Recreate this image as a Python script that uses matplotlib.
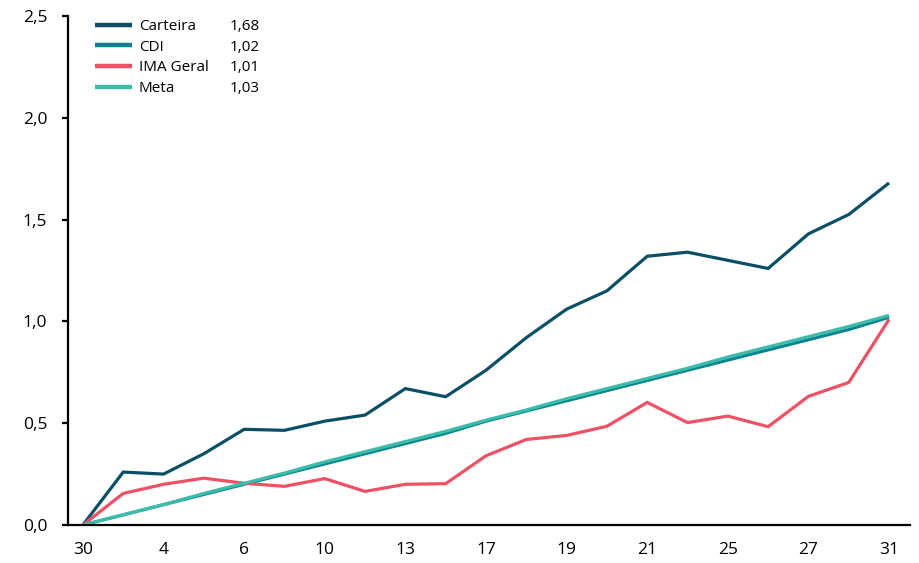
import matplotlib
matplotlib.use("Agg")
import matplotlib.pyplot as plt
from matplotlib.ticker import FuncFormatter

plt.rcParams['font.family'] = ['Open Sans', 'DejaVu Sans']

x_labels = ["30", "", "4", "", "6", "", "10", "", "13", "", "17", "", "19", "", "21", "", "25", "", "27", "", "31"]

carteira = [0.00, 0.26, 0.25, 0.35, 0.47, 0.465, 0.51, 0.54, 0.67, 0.63, 0.76,
            0.92, 1.06, 1.15, 1.32, 1.34, 1.30, 1.26, 1.43, 1.525, 1.68]
cdi = [0.00, 0.05, 0.10, 0.15, 0.20, 0.25, 0.30, 0.35, 0.40, 0.45, 0.51,
       0.56, 0.61, 0.66, 0.71, 0.76, 0.81, 0.86, 0.91, 0.96, 1.02]
ima_geral = [0.00, 0.155, 0.20, 0.23, 0.205, 0.19, 0.228, 0.165, 0.20, 0.203, 0.34,
             0.42, 0.44, 0.485, 0.602, 0.503, 0.535, 0.483, 0.632, 0.70, 1.01]
meta = [0.00, 0.05, 0.10, 0.155, 0.205, 0.255, 0.31, 0.36, 0.41, 0.46, 0.515,
        0.565, 0.62, 0.67, 0.72, 0.77, 0.825, 0.875, 0.925, 0.975, 1.03]

names = ["Carteira", "CDI", "IMA Geral", "Meta"]
finals = ["1,68", "1,02", "1,01", "1,03"]
colors = ["#0b4f66", "#0a8590", "#ef5064", "#3dbcaa"]
series = [carteira, cdi, ima_geral, meta]

fig = plt.figure(figsize=(9.19, 5.63), dpi=100)
ax = fig.add_axes([68/919, 1 - 525/563, (910-68)/919, (525-16)/563])

xs = list(range(len(carteira)))
lines = []
for name, vals, col in zip(names, series, colors):
    ln, = ax.plot(xs, vals, color=col, lw=2.3, label=name, solid_capstyle='butt')
    lines.append(ln)

ax.set_xlim(-0.37, 20.52)
ax.set_ylim(0, 2.5)
ax.set_yticks([0, 0.5, 1.0, 1.5, 2.0, 2.5])
ax.yaxis.set_major_formatter(FuncFormatter(lambda v, p: f"{v:.1f}".replace(".", ",")))
ax.set_xticks(xs)
ax.set_xticklabels(x_labels)

for s in ["top", "right"]:
    ax.spines[s].set_visible(False)
for s in ["left", "bottom"]:
    ax.spines[s].set_linewidth(1.6)
    ax.spines[s].set_color("black")

ax.tick_params(axis='x', length=0, pad=12, labelsize=12.5, colors='black')
ax.tick_params(axis='y', length=4.5, width=1.6, pad=10.5, labelsize=12.5, colors='black')

leg = ax.legend(handles=lines, labels=names, loc='upper left',
                bbox_to_anchor=(95/919, 1 - 19/563), bbox_transform=fig.transFigure,
                frameon=False, fontsize=11, handlelength=2.42, handletextpad=0.46,
                labelspacing=0.37, borderpad=0, borderaxespad=0)
for h in leg.legend_handles:
    h.set_linewidth(3.2)

fig.canvas.draw()
inv = fig.transFigure.inverted()
for t, val in zip(leg.get_texts(), finals):
    bb = t.get_window_extent()
    ycen = (bb.y0 + bb.y1) / 2
    xf, yf = inv.transform((230, ycen))
    fig.text(xf, yf, val, fontsize=11, va='center', ha='left')

fig.savefig("out.png", dpi=100)
